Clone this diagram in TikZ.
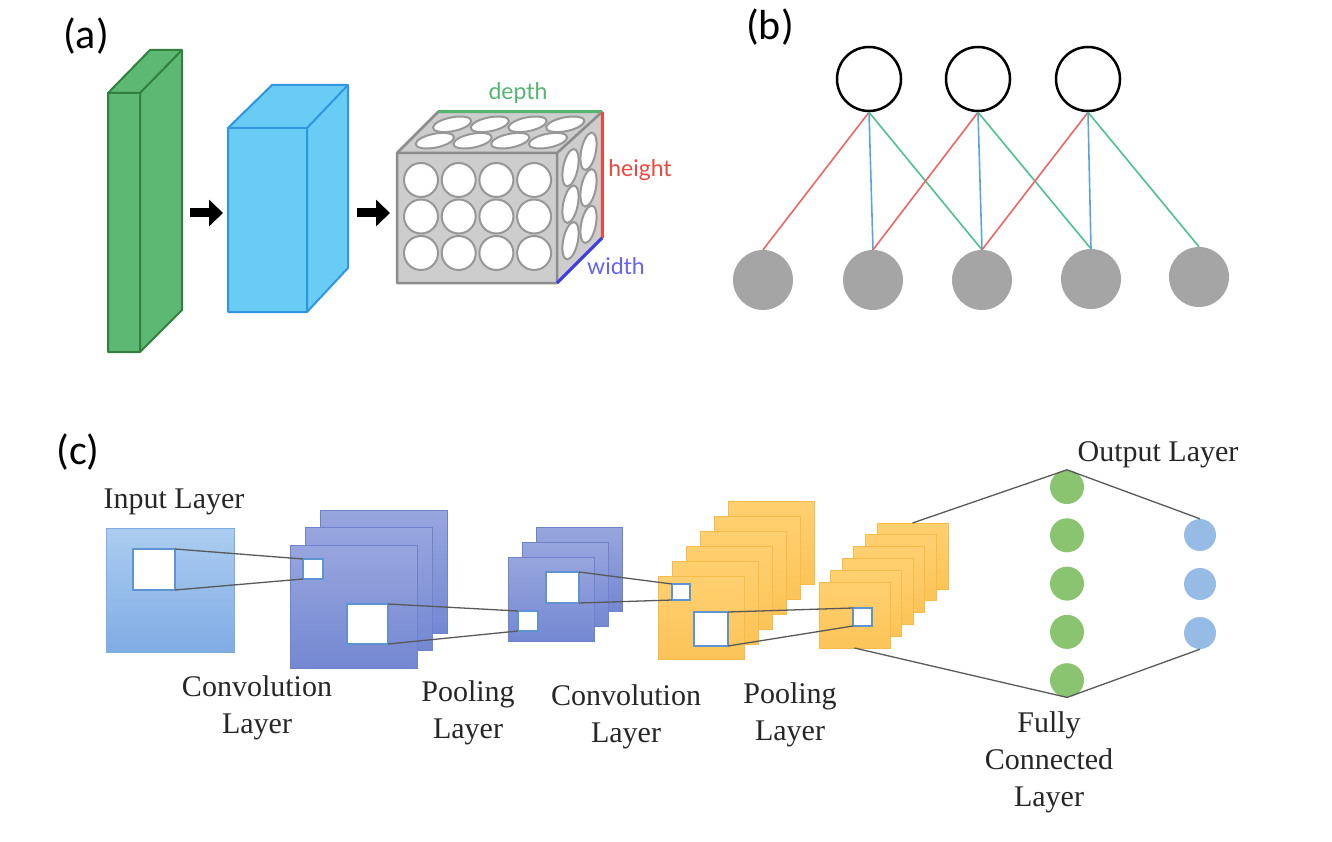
\documentclass[tikz,border=0pt]{standalone}
\usepackage{fontspec}
\setmainfont{Liberation Serif}
\newfontfamily\panelfont{Carlito}
\newfontfamily\dimfont{Lato}
\usetikzlibrary{arrows.meta,positioning,calc}

\definecolor{slabgreen}{RGB}{92,184,114}
\definecolor{slabedge}{RGB}{50,128,62}
\definecolor{boxblue}{RGB}{104,204,244}
\definecolor{boxedge}{RGB}{48,150,225}
\definecolor{cubegray}{RGB}{205,205,205}
\definecolor{cubeedge}{RGB}{140,140,140}
\definecolor{dimgreen}{RGB}{82,182,112}
\definecolor{dimred}{RGB}{236,72,62}
\definecolor{dimblue}{RGB}{62,62,232}
\definecolor{linkred}{RGB}{240,100,100}
\definecolor{linkblue}{RGB}{90,165,222}
\definecolor{linkgreen}{RGB}{78,194,140}
\definecolor{unitgray}{RGB}{165,165,165}
\definecolor{intop}{RGB}{172,205,240}
\definecolor{inbot}{RGB}{128,172,228}
\definecolor{convtop}{RGB}{152,166,222}
\definecolor{convbot}{RGB}{116,136,210}
\definecolor{convedge}{RGB}{110,130,205}
\definecolor{mapora}{RGB}{255,208,112}
\definecolor{maporb}{RGB}{252,196,88}
\definecolor{oraedge}{RGB}{248,186,72}
\definecolor{winedge}{RGB}{95,148,212}
\definecolor{fcgreen}{RGB}{138,196,112}
\definecolor{outblue}{RGB}{150,188,230}

\begin{document}
\begin{tikzpicture}[x=1pt,y=-1pt,
    panel/.style={font=\panelfont\fontsize{42}{48}\selectfont},
    dimtext/.style={font=\dimfont\fontsize{23}{27}\selectfont},
    caption/.style={font=\fontsize{30}{37}\selectfont, align=center, text=black!85, inner sep=0pt},
    hole/.style={draw=cubeedge!90, fill=white, line width=2pt},
    fatarrow/.style={line width=9pt, -{Triangle[length=14pt,width=26pt]}},
    topunit/.style={circle, draw=black, line width=2.5pt, minimum size=64pt, inner sep=0pt},
    botunit/.style={circle, fill=unitgray, minimum size=60pt, inner sep=0pt},
    fmap/.style={anchor=north west, inner sep=0pt, outer sep=0pt, line width=1pt},
    win/.style={anchor=north west, inner sep=0pt, outer sep=0pt, fill=white, draw=winedge, line width=1.5pt},
    fcunit/.style={circle, fill=fcgreen, minimum size=34pt, inner sep=0pt},
    outunit/.style={circle, fill=outblue, minimum size=32pt, inner sep=0pt},
    link/.style={draw=black!65, line width=1.3pt}]
    \useasboundingbox (0,0) rectangle (1332,842);

    % (a)
    \node[panel] (lbla) at (86,36) {(a)};
    \filldraw[fill=slabgreen, draw=slabedge, line width=2pt, line join=round]
        (108,352) -- (108,93) -- (150,50) -- (182,50) -- (182,310) -- (140,352) -- cycle;
    \draw[slabedge, line width=2pt, line join=round] (108,93) -- (140,93) -- (182,50) (140,93) -- (140,352);
    \filldraw[fill=boxblue, draw=boxedge, line width=2pt, line join=round]
        (228,312) -- (228,128) -- (272,85) -- (348,85) -- (348,268) -- (307,312) -- cycle;
    \draw[boxedge, line width=2pt, line join=round] (228,128) -- (307,128) -- (348,85) (307,128) -- (307,312);
    \coordinate (ar1s) at (190,213); \coordinate (ar1e) at (223,213);
    \coordinate (ar2s) at (357,213); \coordinate (ar2e) at (390,213);
    \draw[fatarrow] (ar1s) -- (ar1e);
    \draw[fatarrow] (ar2s) -- (ar2e);

    \coordinate (fbl) at (397,283); \coordinate (ftl) at (397,153);
    \coordinate (ftr) at (557,153); \coordinate (fbr) at (557,283);
    \coordinate (btl) at (438,112); \coordinate (btr) at (602,112);
    \coordinate (bbr) at (602,238);
    \filldraw[fill=cubegray, draw=cubeedge, line width=2.5pt, line join=round]
        (fbl) -- (ftl) -- (btl) -- (btr) -- (bbr) -- (fbr) -- cycle;
    \draw[cubeedge, line width=2.5pt, line join=round] (ftl) -- (ftr) -- (btr) (ftr) -- (fbr);
    \foreach \i in {0,...,3}
        \foreach \j in {0,1,2}
            \draw[hole] ({421+37.7*\i},{180+36.5*\j}) circle (17);
    \begin{scope}[shift={(422pt,-153pt)}, x={(37.7pt,0pt)}, y={(43pt,41pt)}]
        \foreach \i in {0,...,3}
            \foreach \f in {0.3,0.7}
                \draw[hole] (\i,\f) circle [x radius=0.46, y radius=0.19];
    \end{scope}
    \begin{scope}[shift={(557pt,-253pt)}, x={(45pt,41pt)}, y={(0pt,36.5pt)}]
        \foreach \f in {0.3,0.7}
            \foreach \j in {0,1,2}
                \draw[hole] (\f,\j) circle [x radius=0.18, y radius=0.47];
    \end{scope}
    \draw[dimgreen, line width=3pt] (btl) -- (btr);
    \draw[dimred, line width=3pt] (btr) -- (bbr);
    \draw[dimblue, line width=3pt] (bbr) -- (fbr);
    \node[dimtext, text=dimgreen] (depth) at (518,93) {depth};
    \node[dimtext, text=dimred] (height) at (640,170) {height};
    \node[dimtext, text=dimblue!80] (width) at (616,266) {width};

    % (b)
    \node[panel] (lblb) at (770,27) {(b)};
    \node[topunit] (t1) at (869,79) {};
    \node[topunit] (t2) at (978,79) {};
    \node[topunit] (t3) at (1088,79) {};
    \node[botunit] (b1) at (763,280) {};
    \node[botunit] (b2) at (873,280) {};
    \node[botunit] (b3) at (982,280) {};
    \node[botunit] (b4) at (1091,279) {};
    \node[botunit] (b5) at (1199,277) {};
    \foreach \i/\j/\m in {1/2/3,2/3/4,3/4/5} {
        \draw[linkred, line width=1.6pt] (t\i.south) -- (b\i.north);
        \draw[linkblue, line width=1.6pt] (t\i.south) -- (b\j.north);
        \draw[linkgreen, line width=1.6pt] (t\i.south) -- (b\m.north);
    }

    % (c)
    \node[panel] (lblc) at (78,452) {(c)};
    \node[caption] (capin) at (174,502) {Input Layer};
    \node[fmap, top color=intop, bottom color=inbot, draw=inbot, minimum width=128pt, minimum height=124pt] (inp) at (106,528) {};
    \node[win, minimum width=42pt, minimum height=41pt] (inWin) at (133,549) {};

    \foreach \k in {2,1,0}
        \node[fmap, top color=convtop, bottom color=convbot, draw=convedge, minimum width=127pt, minimum height=123pt] (cv1-\k) at ({290+15*\k},{545-17.5*\k}) {};
    \node[win, minimum width=20pt, minimum height=20pt] (cv1s) at (303,559) {};
    \node[win, minimum width=41pt, minimum height=40pt] (cv1b) at (347,604) {};

    \foreach \k in {2,1,0}
        \node[fmap, top color=convtop, bottom color=convbot, draw=convedge, minimum width=86pt, minimum height=84pt] (pl1-\k) at ({508+14*\k},{557-15*\k}) {};
    \node[win, minimum width=20pt, minimum height=20pt] (pl1s) at (518,611) {};
    \node[win, minimum width=33pt, minimum height=31pt] (pl1b) at (546,572) {};

    \foreach \k in {5,4,...,0}
        \node[fmap, top color=mapora, bottom color=maporb, draw=oraedge, minimum width=86pt, minimum height=83pt] (cv2-\k) at ({658+14*\k},{576-15*\k}) {};
    \node[win, minimum width=18pt, minimum height=16pt] (cv2s) at (672,584) {};
    \node[win, minimum width=34pt, minimum height=34pt] (cv2b) at (694,612) {};

    \foreach \k in {5,4,...,0}
        \node[fmap, top color=mapora, bottom color=maporb, draw=oraedge, minimum width=71pt, minimum height=66pt] (pl2-\k) at ({819+11.6*\k},{582-11.8*\k}) {};
    \node[win, minimum width=19pt, minimum height=18pt] (pl2s) at (853,608) {};

    \foreach \n in {1,...,5}
        \node[fcunit] (fc\n) at (1067,{487+48.3*(\n-1)}) {};
    \foreach \n in {1,2,3}
        \node[outunit] (o\n) at (1200,{535+49*(\n-1)}) {};

    \draw[link] (inWin.north east) -- (cv1s.north west);
    \draw[link] (inWin.south east) -- (cv1s.south west);
    \draw[link] (cv1b.north east) -- (pl1s.north west);
    \draw[link] (cv1b.south east) -- (pl1s.south west);
    \draw[link] (pl1b.north east) -- (cv2s.north west);
    \draw[link] (pl1b.south east) -- (cv2s.south west);
    \draw[link] (cv2b.north east) -- (pl2s.north west);
    \draw[link] (cv2b.south east) -- (pl2s.south west);
    \draw[link] (pl2-5.north) -- (fc1.north);
    \draw[link] (pl2-0.south) -- (fc5.south);
    \draw[link] (fc1.north) -- (o1.north);
    \draw[link] (fc5.south) -- (o3.south);

    \node[caption] (capcv1) at (257,708) {Convolution\\Layer};
    \node[caption] (cappl1) at (468,713) {Pooling\\Layer};
    \node[caption] (capcv2) at (626,717) {Convolution\\Layer};
    \node[caption] (cappl2) at (790,715) {Pooling\\Layer};
    \node[caption] (capfc) at (1049,762) {Fully\\Connected\\Layer};
    \node[caption] (capout) at (1158,455) {Output Layer};
\end{tikzpicture}
\end{document}
